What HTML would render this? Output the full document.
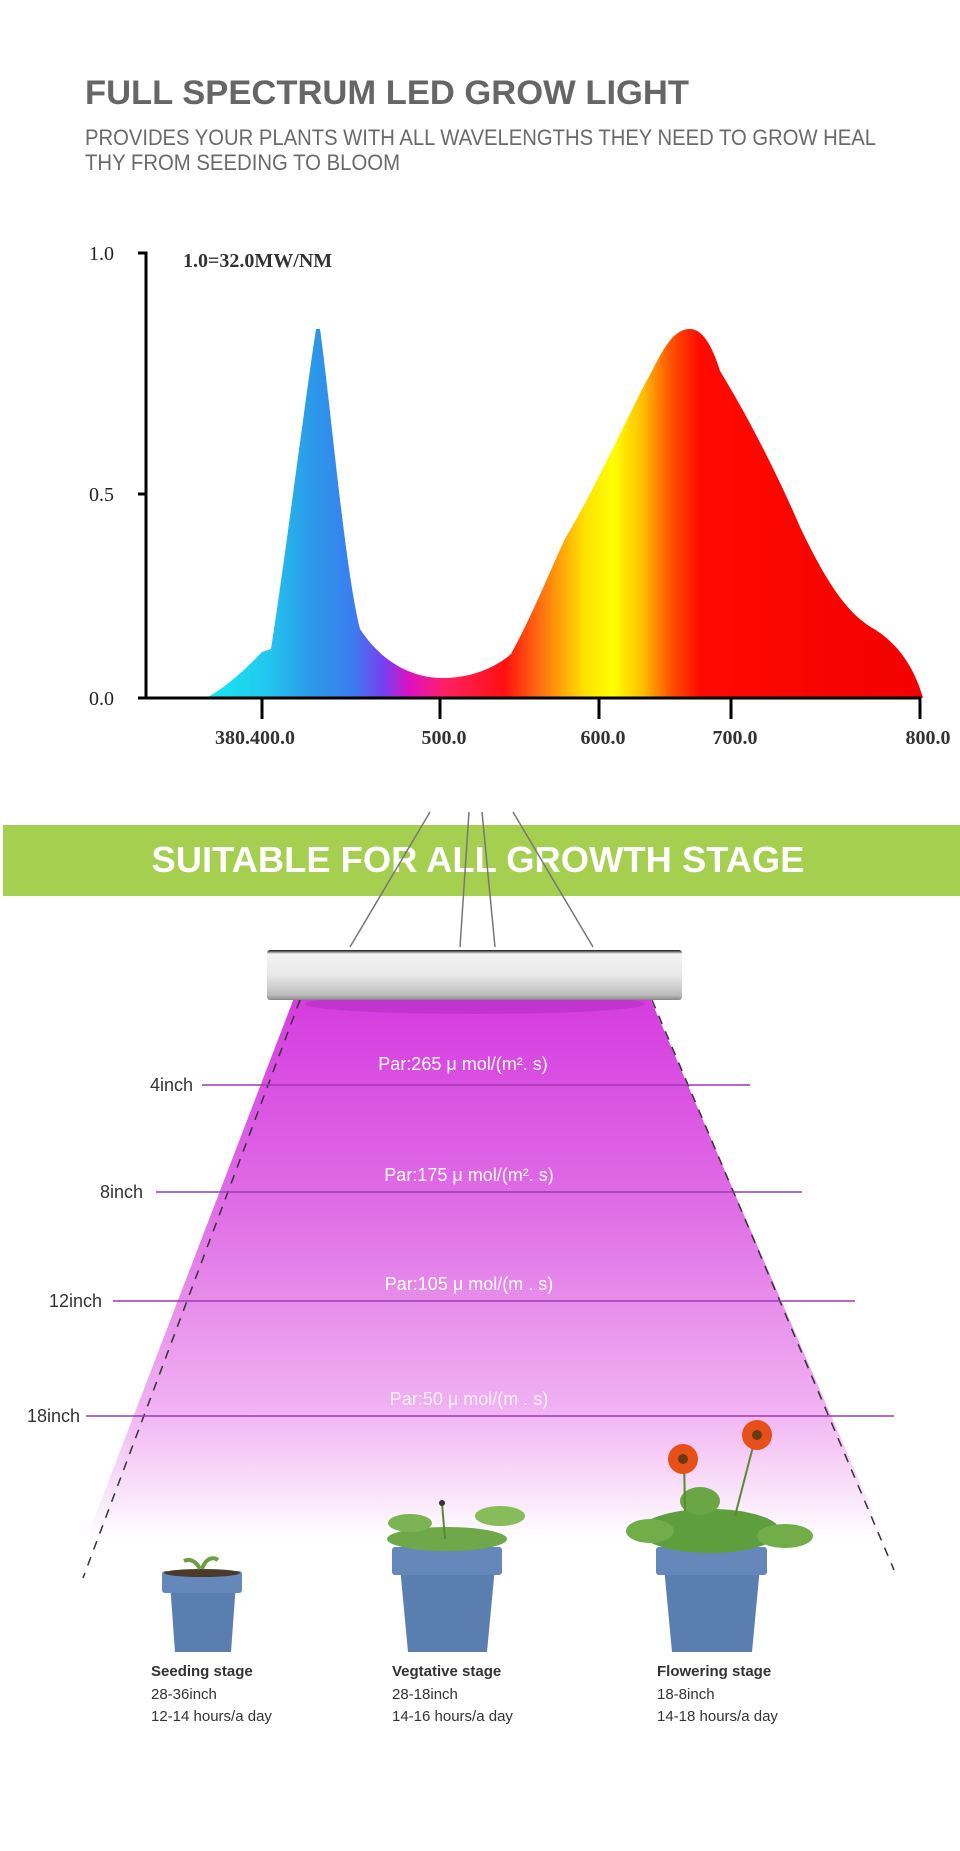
<!DOCTYPE html>
<html><head><meta charset="utf-8"><style>
html,body{margin:0;padding:0;background:#fff;}
body{width:960px;height:1851px;overflow:hidden;position:relative;font-family:"Liberation Sans",sans-serif;}
</style></head><body>
<svg width="960" height="1851" viewBox="0 0 960 1851" xmlns="http://www.w3.org/2000/svg" style="position:absolute;left:0;top:0">
<defs>
<linearGradient id="spec" x1="200" y1="0" x2="925" y2="0" gradientUnits="userSpaceOnUse">
<stop offset="0" stop-color="#10f0f0"/>
<stop offset="0.09" stop-color="#22c8f0"/>
<stop offset="0.15" stop-color="#2a9be8"/>
<stop offset="0.21" stop-color="#3a7ef0"/>
<stop offset="0.255" stop-color="#7a3cf0"/>
<stop offset="0.29" stop-color="#e010c0"/>
<stop offset="0.34" stop-color="#ff2060"/>
<stop offset="0.42" stop-color="#ff1010"/>
<stop offset="0.47" stop-color="#ff7010"/>
<stop offset="0.53" stop-color="#ffe000"/>
<stop offset="0.57" stop-color="#ffff00"/>
<stop offset="0.61" stop-color="#ffc000"/>
<stop offset="0.65" stop-color="#ff5000"/>
<stop offset="0.69" stop-color="#ff0a00"/>
<stop offset="1" stop-color="#f20000"/>
</linearGradient>
<linearGradient id="beam" x1="0" y1="1000" x2="0" y2="1540" gradientUnits="userSpaceOnUse">
<stop offset="0" stop-color="#d63ce0"/>
<stop offset="0.4" stop-color="#e070e6"/>
<stop offset="0.75" stop-color="#f0b0f2"/>
<stop offset="1" stop-color="#ffffff"/>
</linearGradient>
<linearGradient id="lamp" x1="0" y1="950" x2="0" y2="1000" gradientUnits="userSpaceOnUse">
<stop offset="0" stop-color="#111"/>
<stop offset="0.08" stop-color="#f4f4f4"/>
<stop offset="0.5" stop-color="#e8e8e8"/>
<stop offset="0.9" stop-color="#bdbdbd"/>
<stop offset="1" stop-color="#888"/>
</linearGradient>
</defs>

<text x="85" y="104" font-family="Liberation Sans" font-weight="bold" font-size="34" fill="#666" textLength="604" lengthAdjust="spacingAndGlyphs">FULL SPECTRUM LED GROW LIGHT</text>
<text x="85" y="145" font-family="Liberation Sans" font-size="22" fill="#6a6a6a" textLength="791" lengthAdjust="spacingAndGlyphs">PROVIDES YOUR PLANTS WITH ALL WAVELENGTHS THEY NEED TO GROW HEAL</text>
<text x="85" y="170" font-family="Liberation Sans" font-size="22" fill="#6a6a6a" textLength="315" lengthAdjust="spacingAndGlyphs">THY FROM SEEDING TO BLOOM</text>

<path d="M206,698 C225,688 245,670 262,652 L271,649 C285,560 305,400 316,329 L320,329 C330,400 345,570 360,629 C380,660 410,678 443,678 C470,678 495,668 511,654 C535,610 550,570 566,537 C600,480 630,410 652,371 C665,345 675,329 690,329 C702,329 712,345 720,371 C750,420 780,480 800,527 C830,590 850,615 874,629 C900,645 915,670 923,698 Z" fill="url(#spec)"/>

<g stroke="#000" stroke-width="3" fill="none">
<path d="M138,253 H146 V698 H921"/>
<path d="M138,494 H146"/>
<path d="M138,698 H146"/>
<path d="M262,698 V719 M440,698 V719 M599,698 V719 M731,698 V719 M920,698 V719"/>
</g>
<g font-family="Liberation Serif" font-size="20" fill="#222">
<text x="89" y="260">1.0</text>
<text x="89" y="501">0.5</text>
<text x="89" y="705">0.0</text>
<text x="183" y="267" font-weight="bold" fill="#333">1.0=32.0MW/NM</text>
<text x="255" y="744" text-anchor="middle" font-weight="bold" fill="#333">380.400.0</text>
<text x="444" y="744" text-anchor="middle" font-weight="bold" fill="#333">500.0</text>
<text x="603" y="744" text-anchor="middle" font-weight="bold" fill="#333">600.0</text>
<text x="735" y="744" text-anchor="middle" font-weight="bold" fill="#333">700.0</text>
<text x="928" y="744" text-anchor="middle" font-weight="bold" fill="#333">800.0</text>
</g>

<rect x="3" y="825" width="957" height="71" fill="#a5cf4f"/>
<text x="478" y="872" text-anchor="middle" font-family="Liberation Sans" font-weight="bold" font-size="36" fill="#fff" textLength="653" lengthAdjust="spacingAndGlyphs">SUITABLE FOR ALL GROWTH STAGE</text>

<g stroke="#777" stroke-width="1.5" fill="none">
<line x1="430" y1="812" x2="350" y2="947"/>
<line x1="469" y1="812" x2="460" y2="947"/>
<line x1="482" y1="812" x2="495" y2="947"/>
<line x1="513" y1="812" x2="593" y2="947"/>
</g>

<path d="M294,998 L650,998 L885,1540 L86,1540 Z" fill="url(#beam)"/>
<ellipse cx="475" cy="1004" rx="170" ry="10" fill="#b030c0" opacity="0.6"/>
<rect x="267" y="950" width="415" height="50" rx="3" fill="url(#lamp)"/>

<g stroke="#333" stroke-width="1.5" stroke-dasharray="9,8" fill="none">
<line x1="300" y1="1000" x2="83" y2="1578"/>
<line x1="652" y1="1000" x2="894" y2="1570"/>
</g>

<g transform="translate(0,-5)">
<g stroke="#9c3ab0" stroke-width="1.5">
<line x1="202" y1="1090" x2="750" y2="1090"/>
<line x1="156" y1="1197" x2="802" y2="1197"/>
<line x1="113" y1="1306" x2="855" y2="1306"/>
<line x1="86" y1="1421" x2="894" y2="1421"/>
</g>
<g font-family="Liberation Sans" font-size="18" fill="#333" text-anchor="end">
<text x="193" y="1096">4inch</text>
<text x="143" y="1203">8inch</text>
<text x="102" y="1312">12inch</text>
<text x="80" y="1427">18inch</text>
</g>
<g font-family="Liberation Sans" font-size="18" fill="#fff" text-anchor="middle">
<text x="463" y="1075">Par:265 μ  mol/(m². s)</text>
<text x="469" y="1186">Par:175 μ  mol/(m². s)</text>
<text x="469" y="1295">Par:105 μ  mol/(m . s)</text>
<text x="469" y="1410" opacity="0.85">Par:50 μ  mol/(m . s)</text>
</g>
</g>

<g transform="translate(0,-9)">
<path d="M170,1592 L236,1592 L231,1661 L175,1661 Z" fill="#5b7eb0"/>
<rect x="162" y="1580" width="80" height="22" rx="3" fill="#6687ba"/>
<ellipse cx="202" cy="1582" rx="38" ry="4" fill="#4a3a2a"/>
<path d="M200,1578 C195,1568 188,1568 184,1570 M202,1578 C206,1566 214,1566 218,1569" stroke="#6aa040" stroke-width="4" fill="none"/>

<path d="M400,1576 L495,1576 L487,1661 L408,1661 Z" fill="#5b7eb0"/>
<rect x="392" y="1556" width="110" height="28" rx="3" fill="#6687ba"/>
<ellipse cx="447" cy="1548" rx="60" ry="12" fill="#6fa848"/>
<ellipse cx="410" cy="1532" rx="22" ry="9" fill="#7cb454"/>
<ellipse cx="500" cy="1525" rx="25" ry="10" fill="#86bc5a"/>
<line x1="445" y1="1548" x2="442" y2="1512" stroke="#5a8a30" stroke-width="2"/>
<circle cx="442" cy="1512" r="3" fill="#333"/>

<path d="M664,1576 L760,1576 L752,1661 L672,1661 Z" fill="#5b7eb0"/>
<rect x="656" y="1556" width="111" height="28" rx="3" fill="#6687ba"/>
<ellipse cx="710" cy="1540" rx="70" ry="22" fill="#5f9e3c"/>
<ellipse cx="650" cy="1540" rx="24" ry="12" fill="#72ad4a"/>
<ellipse cx="785" cy="1545" rx="28" ry="12" fill="#72ad4a"/>
<ellipse cx="700" cy="1510" rx="20" ry="14" fill="#6aa744"/>
<line x1="685" y1="1520" x2="684" y2="1468" stroke="#5a8a30" stroke-width="2"/>
<line x1="735" y1="1525" x2="756" y2="1444" stroke="#5a8a30" stroke-width="2"/>
<circle cx="683" cy="1468" r="15" fill="#e8501a"/>
<circle cx="683" cy="1468" r="5" fill="#6a3a10"/>
<circle cx="757" cy="1444" r="15" fill="#e8501a"/>
<circle cx="757" cy="1444" r="5" fill="#6a3a10"/>

<g font-family="Liberation Sans" font-size="15" fill="#333">
<text x="151" y="1685" font-weight="bold">Seeding stage</text>
<text x="151" y="1708">28-36inch</text>
<text x="151" y="1730">12-14 hours/a day</text>
<text x="392" y="1685" font-weight="bold">Vegtative stage</text>
<text x="392" y="1708">28-18inch</text>
<text x="392" y="1730">14-16 hours/a day</text>
<text x="657" y="1685" font-weight="bold">Flowering stage</text>
<text x="657" y="1708">18-8inch</text>
<text x="657" y="1730">14-18 hours/a day</text>
</g>
</g>
</svg>
</body></html>
